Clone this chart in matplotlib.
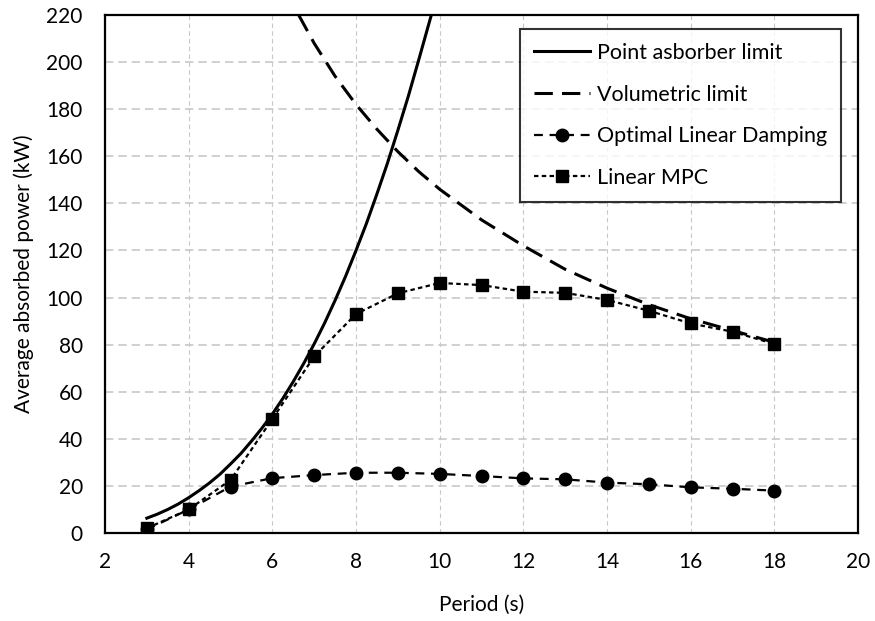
import matplotlib
matplotlib.use('Agg')
import matplotlib.pyplot as plt

periodo_pa = [3, 3.25, 3.5, 3.75, 4, 4.25, 4.5, 4.75, 5, 5.25, 5.5, 5.75, 6, 6.25, 6.5, 6.75,
              7, 7.25, 7.5, 7.75, 8, 8.25, 8.5, 8.75, 9, 9.25, 9.5, 9.8]
pot_pa = [6.3, 8.0, 10.0, 12.3, 15.0, 18.0, 21.3, 25.0, 29.3, 33.8, 39.0, 44.5, 50.5, 57.1,
          64.3, 72.0, 80.3, 89.2, 98.8, 109, 120, 131.5, 144, 157, 171, 185.5, 201, 220]

periodo_vol = [6.63, 7, 7.5, 8, 8.5, 9, 9.5, 10, 11, 12, 13, 14, 15, 16, 17, 18]
pot_vol = [220, 208, 194, 182, 171.5, 162, 153.5, 146, 133, 122, 112, 104, 97, 91, 86, 81]

periodo = [3, 4, 5, 6, 7, 8, 9, 10, 11, 12, 13, 14, 15, 16, 17, 18]
pot_amort = [1.5, 10.0, 19.7, 23.3, 24.6, 25.6, 25.6, 25.1, 24.2, 23.2, 22.8, 21.4, 20.7, 19.4, 18.8, 18.0]
pot_mpc = [2.0, 10.0, 22.5, 48.4, 75.0, 93.0, 101.8, 106.2, 105.3, 102.5, 102.0, 99.0, 94.4, 89.0, 85.5, 80.3]

plt.rcParams.update({
    'font.family': ['Lato', 'DejaVu Sans'],
    'font.size': 15,
})

fig = plt.figure(figsize=(8.75, 6.21), dpi=100)
ax = fig.add_axes([0.12, 0.1417, 0.8606, 0.8341])

ax.plot(periodo_pa, pot_pa, color='black', linewidth=2.2, label='Point asborber limit')
ax.plot(periodo_vol, pot_vol, color='black', linewidth=2.2, linestyle=(0, (6, 3)), label='Volumetric limit')
ax.plot(periodo, pot_amort, color='black', linewidth=1.6, linestyle=(0, (4, 3)),
        marker='o', markersize=9, label='Optimal Linear Damping')
ax.plot(periodo, pot_mpc, color='black', linewidth=1.6, linestyle=(0, (2, 1.5)),
        marker='s', markersize=8.5, label='Linear MPC')

ax.set_xlim(2, 20)
ax.set_ylim(0, 220)
ax.set_xticks(range(2, 21, 2))
ax.set_yticks(range(0, 221, 20))
ax.tick_params(axis='y', length=0, pad=16, labelsize=15)
ax.tick_params(axis='x', length=0, pad=14, labelsize=15)

ax.grid(True, axis='y', color='#c8c8c8', linestyle=(0, (5, 3)), linewidth=1.2)
ax.grid(True, axis='x', color='#c8c8c8', linestyle=(0, (4, 3)), linewidth=0.8)
ax.set_axisbelow(True)

for s in ax.spines.values():
    s.set_linewidth(1.6)
    s.set_color('black')

ax.set_xlabel('Period (s)', fontsize=15, labelpad=16)
ax.set_ylabel('Average absorbed power (kW)', fontsize=15, labelpad=9)

leg = ax.legend(loc='upper right', bbox_to_anchor=(0.977, 0.973), borderaxespad=0,
                fontsize=15.5, frameon=True, fancybox=False, handlelength=2.6,
                labelspacing=1.0, borderpad=0.65, handletextpad=0.3)
leg.get_frame().set_edgecolor('black')
leg.get_frame().set_linewidth(1.5)

fig.savefig('out.png', dpi=100)
